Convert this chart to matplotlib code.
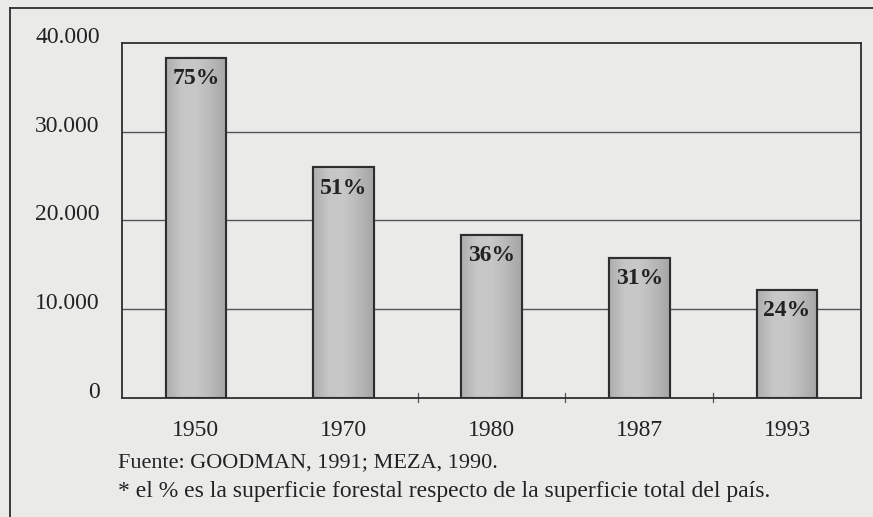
import matplotlib
matplotlib.use("Agg")
import matplotlib.pyplot as plt
import numpy as np
from matplotlib.colors import LinearSegmentedColormap
from matplotlib.lines import Line2D

# ---- data ----
years = ["1950", "1970", "1980", "1987", "1993"]
forest_area = [38300, 26000, 18400, 15800, 12200]
percent_labels = ["75%", "51%", "36%", "31%", "24%"]
ytick_values = [0, 10000, 20000, 30000, 40000]
ytick_labels = ["0", "10.000", "20.000", "30.000", "40.000"]
source_text = "Fuente: GOODMAN, 1991; MEZA, 1990."
note_text = "* el % es la superficie forestal respecto de la superficie total del país."

W, H = 873, 517
bg = "#eaeae9"
ink = "#2e2e2e"
serif = ["Liberation Serif", "DejaVu Serif"]

fig = plt.figure(figsize=(W / 100, H / 100), dpi=100, facecolor=bg)

# outer frame (cropped at right/bottom in the reference)
fig.add_artist(Line2D([10 / W, 1.0], [1 - 8 / H, 1 - 8 / H], transform=fig.transFigure,
                      color=ink, lw=1.3))
fig.add_artist(Line2D([10 / W, 10 / W], [0, 1 - 8 / H], transform=fig.transFigure,
                      color=ink, lw=1.3))

left, right, top, bottom = 122, 861, 43, 398
ax = fig.add_axes([left / W, 1 - bottom / H, (right - left) / W, (bottom - top) / H])
ax.set_facecolor(bg)

x = np.arange(len(years))
bars = ax.bar(x, forest_area, width=0.41, color="#b8b8b8", edgecolor=ink,
              linewidth=1.5, zorder=3)

# gradient fill inside bars
cmap = LinearSegmentedColormap.from_list(
    "g", ["#adadad", "#c6c6c6", "#c8c8c8", "#b8b8b8", "#a6a6a6"])
grad = np.linspace(0, 1, 64).reshape(1, -1)
for b in bars:
    x0, y0 = b.get_x(), b.get_y()
    w, h = b.get_width(), b.get_height()
    im = ax.imshow(grad, cmap=cmap, aspect="auto", extent=(x0, x0 + w, y0, y0 + h),
                   zorder=3.5, interpolation="bilinear")
    im.set_clip_path(b)
    ax.add_patch(plt.Rectangle((x0, y0), w, h, fill=False, edgecolor=ink,
                               linewidth=1.5, zorder=4))

for xi, val, lab in zip(x, forest_area, percent_labels):
    ax.annotate(lab, (xi, val), xytext=(0, -15), textcoords="offset points",
                ha="center", va="center", fontsize=17, fontweight="bold",
                family=serif, color="#222222", zorder=5)

ax.set_xlim(-0.5, 4.5)
ax.set_ylim(0, 40000)

# gridlines
for v in ytick_values[1:-1]:
    ax.axhline(v, color="#555555", lw=1.0, zorder=1)

ax.set_yticks(ytick_values)
ax.set_yticklabels(ytick_labels, family=serif, fontsize=17, color="#222222")
for t in ax.get_yticklabels():
    t.set_verticalalignment("baseline")
ax.tick_params(axis="y", length=0, pad=16)

ax.set_xticks(x)
ax.set_xticklabels(years, family=serif, fontsize=17, color="#222222")
ax.tick_params(axis="x", length=0, pad=16)
# small separator ticks on the x axis
for sx in [1.5, 2.5, 3.5]:
    ax.plot([sx, sx], [-0.012, 0.015], transform=ax.get_xaxis_transform(),
            color="#555555", lw=0.9, clip_on=False, zorder=2)

for s in ax.spines.values():
    s.set_color(ink)
    s.set_linewidth(1.3)

fig.text(118 / W, 1 - 463 / H, source_text, family=serif, fontsize=16,
         color="#222222", ha="left", va="center")
fig.text(118 / W, 1 - 492 / H, note_text, family=serif, fontsize=17,
         color="#222222", ha="left", va="center")

fig.savefig("out.png", dpi=100, facecolor=bg)
